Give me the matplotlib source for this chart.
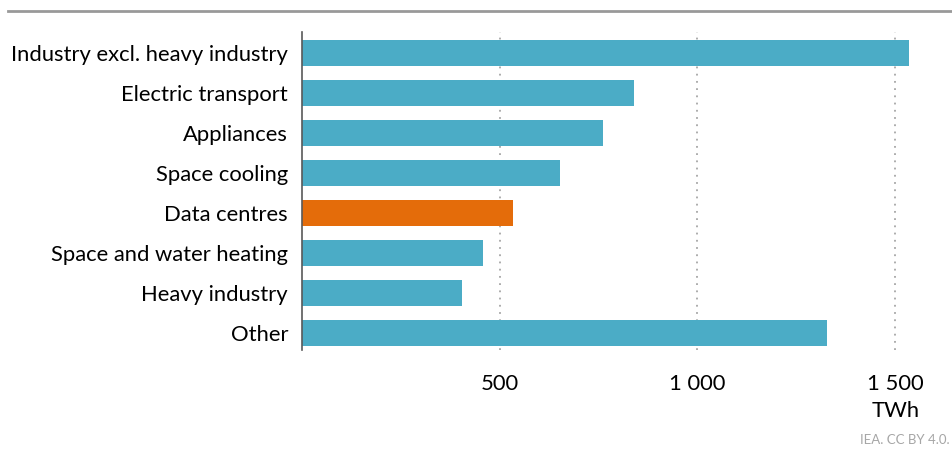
import matplotlib.pyplot as plt
import numpy as np

plt.rcParams['font.family'] = ['Lato', 'DejaVu Sans']

categories = [
    'Industry excl. heavy industry',
    'Electric transport',
    'Appliances',
    'Space cooling',
    'Data centres',
    'Space and water heating',
    'Heavy industry',
    'Other',
]
values = [1535, 840, 761, 653, 534, 458, 405, 1328]
highlight = 'Data centres'
xticks = [500, 1000, 1500]
xtick_labels = ['500', '1 000', '1 500']

BLUE = '#4bacc6'
ORANGE = '#e46c0a'

W, H = 952, 449
fig = plt.figure(figsize=(W / 100, H / 100), dpi=100)

# axes spans from the zero line to near the right edge
left, right, top, bottom = 302, 940, 32, 350
ax = fig.add_axes([left / W, 1 - bottom / H, (right - left) / W, (bottom - top) / H])

px_per_twh = (895 - 302) / 1500
ax.set_xlim(0, (right - left) / px_per_twh)
ax.set_ylim(len(categories) - 1 + 0.425, -0.525)

y = np.arange(len(categories))
colors = [ORANGE if c == highlight else BLUE for c in categories]
ax.barh(y, values, height=0.65, color=colors, zorder=2)

for t in xticks:
    ax.axvline(t, color='#a6a6a6', linestyle=(0, (1, 3)), linewidth=1.3, zorder=1)

FS = 15.8
ax.set_yticks(y)
ax.set_yticklabels(categories, fontsize=FS, color='#000000')
ax.set_xticks(xticks)
ax.set_xticklabels(xtick_labels, fontsize=FS)
ax.tick_params(axis='y', length=0, pad=10)
ax.tick_params(axis='x', length=0, pad=17)

for s in ['top', 'right', 'bottom']:
    ax.spines[s].set_visible(False)
ax.spines['left'].set_color('#595959')
ax.spines['left'].set_linewidth(1.2)

# top rule
fig.add_artist(plt.Line2D([8 / W, 1], [1 - 11 / H, 1 - 11 / H], color='#999999', linewidth=2))

fig.text(920 / W, 1 - 411 / H, 'TWh', ha='right', va='center', fontsize=FS)
fig.text(950 / W, 1 - 440 / H, 'IEA. CC BY 4.0.', ha='right', va='center', fontsize=9.5, color='#a6a6a6')

plt.savefig('out.png', dpi=100)
